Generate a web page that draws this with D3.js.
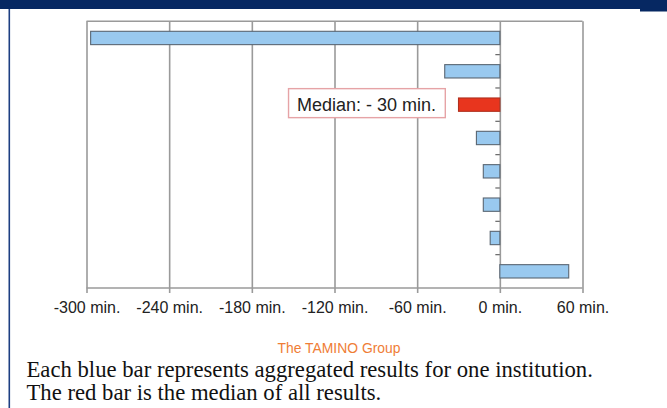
<!DOCTYPE html>
<html>
<head>
<meta charset="utf-8">
<script src="https://cdn.jsdelivr.net/npm/d3@7"></script>
<style>
  body { margin: 0; background: #fff; }
  svg { display: block; }
</style>
</head>
<body>
<svg id="chart"></svg>
<script>
// data
const categories = ["Inst 1", "Inst 2", "Median", "Inst 3", "Inst 4", "Inst 5", "Inst 6", "Inst 7"];
const minutes = [-297, -40, -30, -17, -12, -12, -7, 50];
const xTicks = [-300, -240, -180, -120, -60, 0, 60];
const medianLabel = "Median: - 30 min.";
const credit = "The TAMINO Group";
const captionLines = [
  "Each blue bar represents aggregated results for one institution.",
  "The red bar is the median of all results."
];

const width = 667;
const height = 408;
const plot = { left: 86.5, right: 582.5, top: 21.3, bottom: 288 };

const svg = d3.select("#chart").attr("width", width).attr("height", height);

// slide frame
svg.append("rect").attr("x", 0).attr("y", 0).attr("width", width).attr("height", 9).attr("fill", "#062862");
svg.append("rect").attr("x", 640).attr("y", 0).attr("width", width - 640).attr("height", 11.5).attr("fill", "#062862");
svg.append("line")
  .attr("x1", 9.3).attr("x2", 9.3).attr("y1", 9).attr("y2", height)
  .attr("stroke", "#1d3f82").attr("stroke-width", 1.6);

const x = d3.scaleLinear().domain([-300, 60]).range([plot.left, plot.right]);

const y = d3.scaleBand()
  .domain(categories)
  .range([plot.top, plot.bottom])
  .paddingInner(0.6)
  .paddingOuter(0.3);

const gridColor = "#9a9a9a";

// vertical grid lines
svg.append("g")
  .attr("transform", `translate(0,${plot.bottom})`)
  .call(d3.axisBottom(x).tickValues(xTicks).tickSize(-(plot.bottom - plot.top)).tickFormat(""))
  .call(g => g.select(".domain").remove())
  .call(g => g.selectAll(".tick line").attr("stroke", gridColor).attr("stroke-width", 1.6));

// top border
svg.append("line")
  .attr("x1", plot.left).attr("x2", plot.right)
  .attr("y1", plot.top).attr("y2", plot.top)
  .attr("stroke", gridColor).attr("stroke-width", 1.6);

// x axis
svg.append("g")
  .attr("transform", `translate(0,${plot.bottom})`)
  .call(d3.axisBottom(x).tickValues(xTicks).tickSize(5).tickPadding(9).tickFormat(d => `${d} min.`))
  .call(g => g.select(".domain").attr("stroke", gridColor).attr("stroke-width", 1.6).attr("d", `M${plot.left},0H${plot.right}`))
  .call(g => g.selectAll(".tick line").attr("stroke", gridColor).attr("stroke-width", 1.6))
  .call(g => g.selectAll(".tick text")
    .attr("font-family", "Liberation Sans, Arial, sans-serif")
    .attr("font-size", 16)
    .attr("fill", "#222"));

// category ticks on the zero line, between bars
const step = y.step();
svg.append("g")
  .selectAll("line")
  .data(categories.slice(1))
  .join("line")
  .attr("x1", x(0) - 4.5)
  .attr("x2", x(0))
  .attr("y1", d => y(d) - step * y.paddingInner() / 2)
  .attr("y2", d => y(d) - step * y.paddingInner() / 2)
  .attr("stroke", "#666")
  .attr("stroke-width", 1.2);

// bars
svg.append("g")
  .selectAll("rect")
  .data(categories.map((c, i) => ({ c, v: minutes[i] })))
  .join("rect")
  .attr("x", d => x(Math.min(0, d.v)))
  .attr("y", d => y(d.c))
  .attr("width", d => Math.abs(x(d.v) - x(0)))
  .attr("height", y.bandwidth())
  .attr("fill", d => d.c === "Median" ? "#e8351e" : "#99c9ef")
  .attr("stroke", d => d.c === "Median" ? "#b0301e" : "#5a6672")
  .attr("stroke-width", 1.1);

// median label box
const medianValue = minutes[categories.indexOf("Median")];
const label = svg.append("g");
const labelText = label.append("text")
  .attr("font-family", "Liberation Sans, Arial, sans-serif")
  .attr("font-size", 18)
  .attr("fill", "#222")
  .attr("text-anchor", "end")
  .attr("x", x(medianValue) - 22.5)
  .attr("y", y("Median") + y.bandwidth() / 2 + 6)
  .text(medianLabel);
const bb = labelText.node().getBBox();
label.insert("rect", "text")
  .attr("x", bb.x - 8.4)
  .attr("y", y("Median") + y.bandwidth() / 2 - 16)
  .attr("width", bb.width + 17.7)
  .attr("height", 29)
  .attr("fill", "#fff")
  .attr("stroke", "#e6a3a6")
  .attr("stroke-width", 1.4);

// credit + caption
svg.append("text")
  .attr("x", 339).attr("y", 352.5)
  .attr("text-anchor", "middle")
  .attr("font-family", "Liberation Sans, Arial, sans-serif")
  .attr("font-size", 13.9)
  .attr("fill", "#ef7d36")
  .text(credit);

svg.append("g")
  .selectAll("text")
  .data(captionLines)
  .join("text")
  .attr("x", 26.5)
  .attr("y", (_, i) => 376.7 + i * 23.3)
  .attr("font-family", "Liberation Serif, Times New Roman, serif")
  .attr("font-size", 22.7)
  .attr("fill", "#111")
  .text(d => d);
</script>
</body>
</html>
